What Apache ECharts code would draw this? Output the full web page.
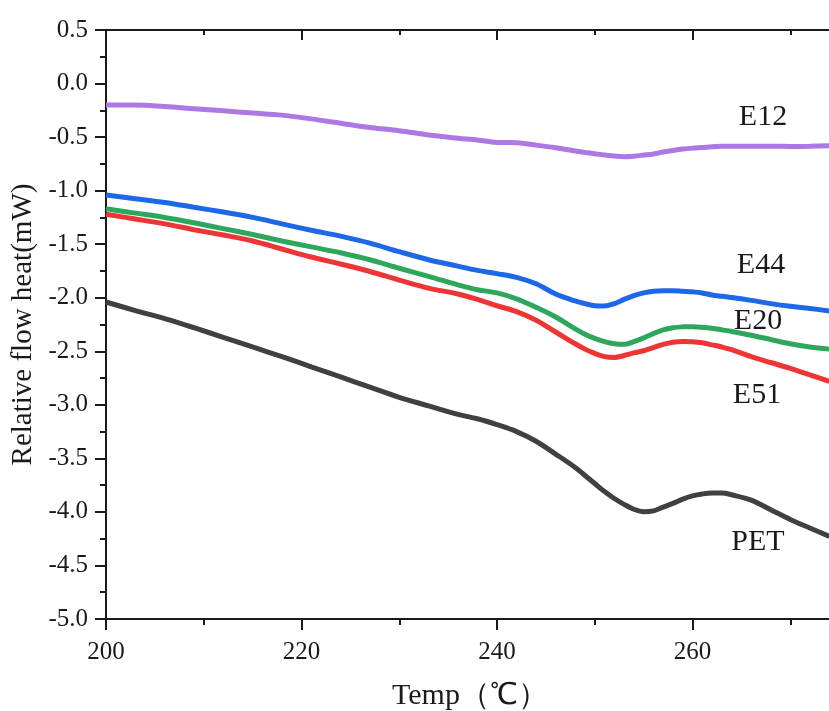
<!DOCTYPE html>
<html>
<head>
<meta charset="utf-8">
<script src="https://cdn.jsdelivr.net/npm/echarts@6/dist/echarts.min.js"></script>
<style>
html,body{margin:0;padding:0;background:#fff;overflow:hidden;width:829px;height:711px;}
#chart{width:888px;height:711px;}
</style>
</head>
<body>
<div id="chart"></div>
<script>
// Temperature (°C) sample points shared by all curves
const temps = [200, 203, 206, 209, 212, 215, 218, 221, 224, 227, 230, 233, 236, 238, 240, 242, 244, 246, 248, 249, 250, 251, 252, 253, 254, 255, 256, 257, 258, 259, 260, 261, 262, 263, 264, 266, 268, 270, 272, 274];

const E12 = [-0.20, -0.20, -0.215, -0.235, -0.255, -0.275, -0.295, -0.33, -0.37, -0.41, -0.44, -0.48, -0.51, -0.528, -0.55, -0.553, -0.575, -0.60, -0.63, -0.643, -0.655, -0.667, -0.676, -0.683, -0.678, -0.668, -0.657, -0.64, -0.625, -0.612, -0.603, -0.597, -0.59, -0.586, -0.585, -0.585, -0.585, -0.587, -0.585, -0.58];

const E44 = [-1.04, -1.075, -1.11, -1.155, -1.20, -1.25, -1.31, -1.37, -1.425, -1.49, -1.57, -1.645, -1.705, -1.745, -1.775, -1.81, -1.87, -1.965, -2.03, -2.055, -2.075, -2.078, -2.055, -2.015, -1.98, -1.955, -1.94, -1.935, -1.935, -1.94, -1.945, -1.955, -1.975, -1.987, -1.998, -2.025, -2.055, -2.08, -2.10, -2.123];

const E20 = [-1.17, -1.21, -1.25, -1.30, -1.355, -1.41, -1.47, -1.525, -1.58, -1.645, -1.725, -1.80, -1.88, -1.925, -1.955, -2.01, -2.09, -2.18, -2.29, -2.34, -2.38, -2.41, -2.43, -2.435, -2.41, -2.375, -2.335, -2.30, -2.28, -2.272, -2.27, -2.275, -2.285, -2.30, -2.315, -2.35, -2.39, -2.43, -2.46, -2.48];

const E51 = [-1.22, -1.265, -1.31, -1.365, -1.415, -1.47, -1.545, -1.62, -1.685, -1.755, -1.835, -1.91, -1.965, -2.015, -2.075, -2.13, -2.21, -2.32, -2.43, -2.48, -2.52, -2.55, -2.558, -2.54, -2.515, -2.495, -2.465, -2.435, -2.415, -2.408, -2.41, -2.42, -2.44, -2.46, -2.485, -2.55, -2.605, -2.66, -2.72, -2.78];

const PET = [-2.04, -2.12, -2.195, -2.28, -2.37, -2.46, -2.55, -2.645, -2.74, -2.835, -2.93, -3.01, -3.09, -3.13, -3.185, -3.25, -3.34, -3.46, -3.585, -3.66, -3.735, -3.81, -3.875, -3.93, -3.975, -3.998, -3.99, -3.955, -3.92, -3.88, -3.85, -3.832, -3.823, -3.823, -3.84, -3.89, -3.98, -4.07, -4.15, -4.228];

const seriesNames = ['E12', 'E44', 'E20', 'E51', 'PET'];
const seriesValues = [E12, E44, E20, E51, PET];
const seriesColors = ['#ad78e3', '#1c68e6', '#2ea75c', '#ee3535', '#404040'];

const xTickLabels = ['200', '220', '240', '260'];
const xName = 'Temp（℃）';
const yName = 'Relative flow heat(mW)';

const FONT = '"Liberation Serif", "Times New Roman", serif';
const AXIS_COLOR = '#1a1a1a';

const chart = echarts.init(document.getElementById('chart'), null, {renderer: 'canvas', width: 888, height: 711});

const baseX = {
  type: 'value', min: 200, max: 280, interval: 20,
  splitLine: {show: false},
  axisLine: {show: true, onZero: false, lineStyle: {color: AXIS_COLOR, width: 2}}
};
const baseY = {
  type: 'value', min: -5, max: 0.5, interval: 0.5,
  splitLine: {show: false},
  axisLine: {show: true, onZero: false, lineStyle: {color: AXIS_COLOR, width: 2}}
};

const labels = [
  {text: 'E12', x: 763, y: 117},
  {text: 'E44', x: 761, y: 265},
  {text: 'E20', x: 758, y: 321},
  {text: 'E51', x: 757, y: 395},
  {text: 'PET', x: 758, y: 542}
];

chart.setOption({
  animation: false,
  backgroundColor: '#ffffff',
  grid: {left: 106, top: 30, bottom: 92, right: 0, containLabel: false, outerBoundsMode: 'none'},
  xAxis: [
    Object.assign({}, baseX, {
      position: 'bottom',
      name: xName, nameLocation: 'middle', nameGap: 62,
      nameTextStyle: {fontFamily: FONT, fontSize: 30, color: AXIS_COLOR, padding: [0, 54, 0, 0]},
      axisTick: {show: true, inside: false, length: 11, lineStyle: {color: AXIS_COLOR, width: 2}},
      minorTick: {show: true, splitNumber: 2, length: 6, lineStyle: {color: AXIS_COLOR, width: 2}},
      axisLabel: {show: true, margin: 21, fontFamily: FONT, fontSize: 25, color: AXIS_COLOR,
        showMaxLabel: false,
        formatter: function (v) { const s = String(v); return xTickLabels.indexOf(s) >= 0 ? s : ''; }}
    }),
    Object.assign({}, baseX, {
      position: 'top',
      axisTick: {show: true, inside: true, length: 10, lineStyle: {color: AXIS_COLOR, width: 2}},
      minorTick: {show: true, splitNumber: 2, length: 5, lineStyle: {color: AXIS_COLOR, width: 2}},
      axisLabel: {show: false}
    })
  ],
  yAxis: [
    Object.assign({}, baseY, {
      position: 'left',
      name: yName, nameLocation: 'middle', nameGap: 63, nameRotate: 90,
      nameTextStyle: {fontFamily: FONT, fontSize: 29, color: AXIS_COLOR},
      axisTick: {show: true, inside: false, length: 11, lineStyle: {color: AXIS_COLOR, width: 2}},
      minorTick: {show: true, splitNumber: 2, length: 6, lineStyle: {color: AXIS_COLOR, width: 2}},
      axisLabel: {show: true, margin: 18, fontFamily: FONT, fontSize: 25, color: AXIS_COLOR,
        formatter: function (v) { return v.toFixed(1); }}
    }),
    Object.assign({}, baseY, {
      position: 'right', offset: -49,
      axisTick: {show: true, inside: true, length: 10, lineStyle: {color: AXIS_COLOR, width: 2}},
      axisLabel: {show: false}
    })
  ],
  series: seriesNames.map(function (name, i) {
    return {
      name: name, type: 'line', xAxisIndex: 0, yAxisIndex: 0,
      showSymbol: false, smooth: 0.35,
      lineStyle: {color: seriesColors[i], width: 5},
      itemStyle: {color: seriesColors[i]},
      data: temps.map(function (t, j) { return [t, seriesValues[i][j]]; })
    };
  }),
  graphic: labels.map(function (l) {
    return {
      type: 'text', x: l.x, y: l.y, z: 100,
      style: {text: l.text, fill: '#1a1a1a', font: '30px ' + FONT, textAlign: 'center', textVerticalAlign: 'middle'}
    };
  })
});
</script>
</body>
</html>
